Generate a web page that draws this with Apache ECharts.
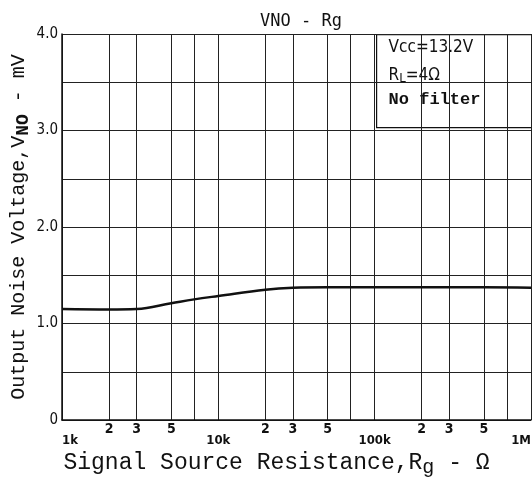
<!DOCTYPE html>
<html>
<head>
<meta charset="utf-8">
<script src="https://cdn.jsdelivr.net/npm/echarts@6/dist/echarts.min.js"></script>
<style>
  html, body { margin: 0; padding: 0; background: #fff; }
  #main { width: 532px; height: 477px; }
</style>
</head>
<body>
<div id="main"></div>
<script>
// signal source resistance (ohm) and output noise voltage (mV)
var rg = [1000, 2000, 3000, 5000, 7000, 10000, 20000, 30000, 50000, 100000, 200000, 500000, 1000000]
var vno = [1.15, 1.145, 1.15, 1.21, 1.25, 1.285, 1.35, 1.37, 1.375, 1.375, 1.375, 1.375, 1.37]

// grid lines and tick labels on the log axis
var gridValues = [1000, 2000, 3000, 5000, 7000, 10000, 20000, 30000, 50000, 70000,
  100000, 200000, 300000, 500000, 700000, 1000000]
var labelValues = [1000, 2000, 3000, 5000, 10000, 20000, 30000, 50000,
  100000, 200000, 300000, 500000, 1000000]
var decadeNames = { 1000: '1k', 10000: '10k', 100000: '100k', 1000000: '1M' }

var chart = echarts.init(document.getElementById('main'))

var mono = 'Liberation Mono'

var option = {
  backgroundColor: '#fff',
  animation: false,
  title: {
    text: 'VNO - Rg',
    left: 296,
    top: 8,
    textAlign: 'center',
    textStyle: { fontFamily: 'DejaVu Sans Mono', fontSize: 17, fontWeight: 'normal', color: '#111' }
  },
  grid: { left: 62, right: 1, top: 34, bottom: 57, outerBoundsMode: 'none' },
  xAxis: {
    type: 'log',
    logBase: 10,
    min: 1000,
    max: 1000000,
    name: 'Signal Source Resistance,R{sub|g} - Ω',
    nameLocation: 'middle',
    nameGap: 27,
    nameTextStyle: {
      fontFamily: mono, fontSize: 23, color: '#111', padding: [0, 40, 0, 0],
      rich: { sub: { fontFamily: mono, fontSize: 20, padding: [8, 0, 0, 0], color: '#111' } }
    },
    axisLine: { lineStyle: { color: '#111', width: 1.5 } },
    axisTick: { show: false, customValues: gridValues },
    splitLine: { show: true, lineStyle: { color: '#222', width: 1 } },
    axisLabel: {
      customValues: labelValues,
      margin: 2,
      alignMinLabel: 'left',
      alignMaxLabel: 'right',
      formatter: function (v) {
        var d = decadeNames[Math.round(v)]
        if (d) return '{d|' + d + '}'
        return '{n|' + Math.round(v / Math.pow(10, Math.floor(Math.log10(v) + 1e-9))) + '}'
      },
      rich: {
        d: { fontFamily: 'DejaVu Sans Condensed', fontSize: 13, fontWeight: 'bold', color: '#111', padding: [12, 0, 0, 0] },
        n: { fontFamily: 'DejaVu Sans Condensed', fontSize: 14, fontWeight: 'bold', color: '#111' }
      }
    }
  },
  yAxis: {
    type: 'value',
    min: 0,
    max: 4,
    interval: 0.5,
    name: 'Output Noise Voltage,V{sub|NO} - mV',
    nameLocation: 'middle',
    nameRotate: 90,
    nameGap: 30,
    nameMoveOverlap: false,
    nameTextStyle: {
      fontFamily: mono, fontSize: 20, color: '#111',
      rich: { sub: { fontFamily: mono, fontSize: 18, fontWeight: 'bold', padding: [8, 0, 0, 0], color: '#111' } }
    },
    axisLine: { show: true, lineStyle: { color: '#111', width: 1.5 } },
    axisTick: { show: false },
    splitLine: { show: true, lineStyle: { color: '#222', width: 1 } },
    axisLabel: {
      margin: 4,
      fontFamily: 'DejaVu Sans Condensed',
      fontSize: 15,
      color: '#111',
      formatter: function (v) {
        if (v % 1 !== 0) return ''
        return v === 0 ? '0' : v.toFixed(1)
      }
    }
  },
  series: [{
    type: 'line',
    data: rg.map(function (r, i) { return [r, vno[i]] }),
    smooth: 0.4,
    symbol: 'none',
    lineStyle: { color: '#111', width: 2.5 }
  }],
  graphic: [{
    type: 'group',
    left: 376,
    top: 34,
    z: 100,
    children: [{
      type: 'rect',
      shape: { x: 0, y: 0, width: 155, height: 93 },
      style: { fill: '#fff', stroke: '#111', lineWidth: 1.2 }
    }, {
      type: 'text',
      x: 12, y: 4,
      style: { text: 'Vcc=13.2V', font: '17px "DejaVu Sans Condensed"', fill: '#111' }
    }, {
      type: 'text',
      x: 12, y: 30,
      style: {
        text: 'R{s|L}=4Ω', font: '17px "DejaVu Sans Condensed"', fill: '#111',
        rich: { s: { font: '13px "DejaVu Sans Condensed"', fill: '#111', padding: [8, 0, 0, 0] } }
      }
    }, {
      type: 'text',
      x: 12, y: 57,
      style: { text: 'No filter', font: 'bold 17px "Liberation Mono"', fill: '#111' }
    }]
  }]
}

chart.setOption(option)
</script>
</body>
</html>
